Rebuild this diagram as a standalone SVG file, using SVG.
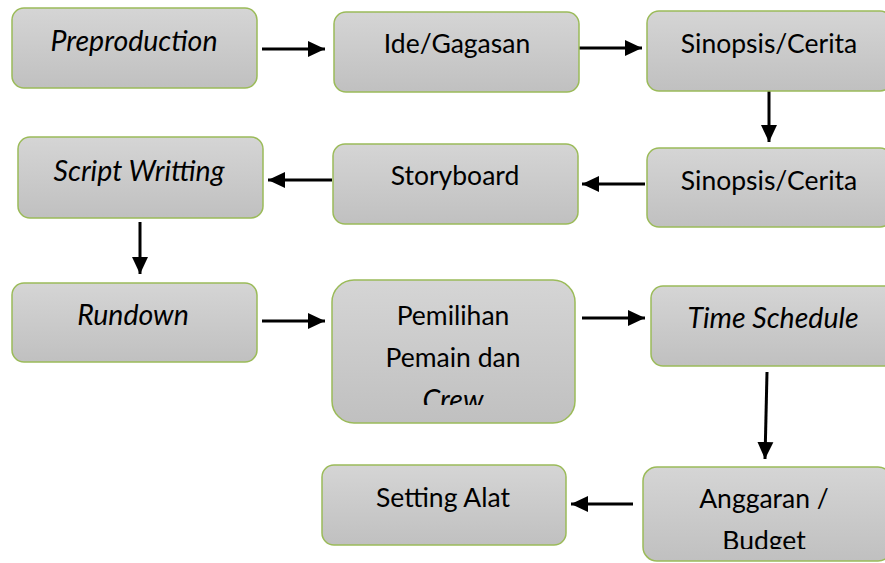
<svg xmlns="http://www.w3.org/2000/svg" width="885" height="563" viewBox="0 0 885 563">
  <defs>
    <linearGradient id="boxFill" x1="0" y1="0" x2="0" y2="1">
      <stop offset="0" stop-color="#d5d5d5"/>
      <stop offset="1" stop-color="#c0c0c0"/>
    </linearGradient>
    <marker id="head" markerUnits="userSpaceOnUse" markerWidth="18" markerHeight="18" viewBox="0 0 18 18" refX="17" refY="9" orient="auto">
      <polygon points="0,1 17,9 0,17" fill="#000"/>
    </marker>
    <clipPath id="clipCrew"><rect x="330" y="278" width="250" height="127"/></clipPath>
    <clipPath id="clipBudget"><rect x="640" y="465" width="250" height="84"/></clipPath>
  </defs>
  <style>
    .box { fill: url(#boxFill); stroke: #9bbb59; stroke-width: 1.5; }
    .lbl { font-family: Lato, "Liberation Sans", sans-serif; font-size: 26.5px; fill: #000; text-anchor: middle; }
    .it { font-style: italic; font-size: 28.5px; }
    .arrow { stroke: #000; stroke-width: 3; fill: none; marker-end: url(#head); }
  </style>
  <rect width="885" height="563" fill="#fff"/>

  <g id="connectors">
    <line class="arrow" x1="262" y1="49" x2="325" y2="49"/>
    <line class="arrow" x1="579" y1="48" x2="642" y2="48"/>
    <line class="arrow" x1="769" y1="90" x2="769" y2="142"/>
    <line class="arrow" x1="645" y1="184" x2="582" y2="184"/>
    <line class="arrow" x1="332" y1="180" x2="268" y2="180"/>
    <line class="arrow" x1="140" y1="222" x2="140" y2="274"/>
    <line class="arrow" x1="262" y1="321" x2="325" y2="321"/>
    <line class="arrow" x1="582" y1="318" x2="645" y2="318"/>
    <line class="arrow" x1="767" y1="372" x2="765" y2="459"/>
    <line class="arrow" x1="633" y1="504" x2="571" y2="504"/>
  </g>

  <g id="preproduction">
    <rect class="box" x="12" y="8" width="245" height="80" rx="12"/>
    <text class="lbl it" x="134" y="51">Preproduction</text>
  </g>
  <g id="ide-gagasan">
    <rect class="box" x="334" y="12" width="245" height="80" rx="12"/>
    <text class="lbl" x="457" y="53">Ide/Gagasan</text>
  </g>
  <g id="sinopsis-1">
    <rect class="box" x="647" y="11" width="245" height="80" rx="12"/>
    <text class="lbl" x="769" y="53">Sinopsis/Cerita</text>
  </g>
  <g id="sinopsis-2">
    <rect class="box" x="647" y="148" width="245" height="79" rx="12"/>
    <text class="lbl" x="769" y="190">Sinopsis/Cerita</text>
  </g>
  <g id="storyboard">
    <rect class="box" x="333" y="144" width="245" height="80" rx="12"/>
    <text class="lbl" x="455" y="185">Storyboard</text>
  </g>
  <g id="script-writting">
    <rect class="box" x="18" y="137" width="245" height="81" rx="12"/>
    <text class="lbl it" x="139" y="181">Script Writting</text>
  </g>
  <g id="rundown">
    <rect class="box" x="12" y="283" width="245" height="79" rx="12"/>
    <text class="lbl it" x="133" y="325">Rundown</text>
  </g>
  <g id="pemilihan">
    <rect class="box" x="332" y="280" width="243" height="143" rx="22"/>
    <g clip-path="url(#clipCrew)">
      <text class="lbl" x="453" y="325">Pemilihan</text>
      <text class="lbl" x="453" y="367">Pemain dan</text>
      <text class="lbl it" x="453" y="410">Crew</text>
    </g>
  </g>
  <g id="time-schedule">
    <rect class="box" x="651" y="286" width="245" height="80" rx="12"/>
    <text class="lbl it" x="773" y="328">Time Schedule</text>
  </g>
  <g id="anggaran">
    <rect class="box" x="643" y="467" width="249" height="94" rx="14"/>
    <g clip-path="url(#clipBudget)">
      <text class="lbl" x="764" y="508">Anggaran /</text>
      <text class="lbl" x="764" y="550">Budget</text>
    </g>
  </g>
  <g id="setting-alat">
    <rect class="box" x="322" y="465" width="244" height="80" rx="12"/>
    <text class="lbl" x="443" y="507">Setting Alat</text>
  </g>
</svg>
